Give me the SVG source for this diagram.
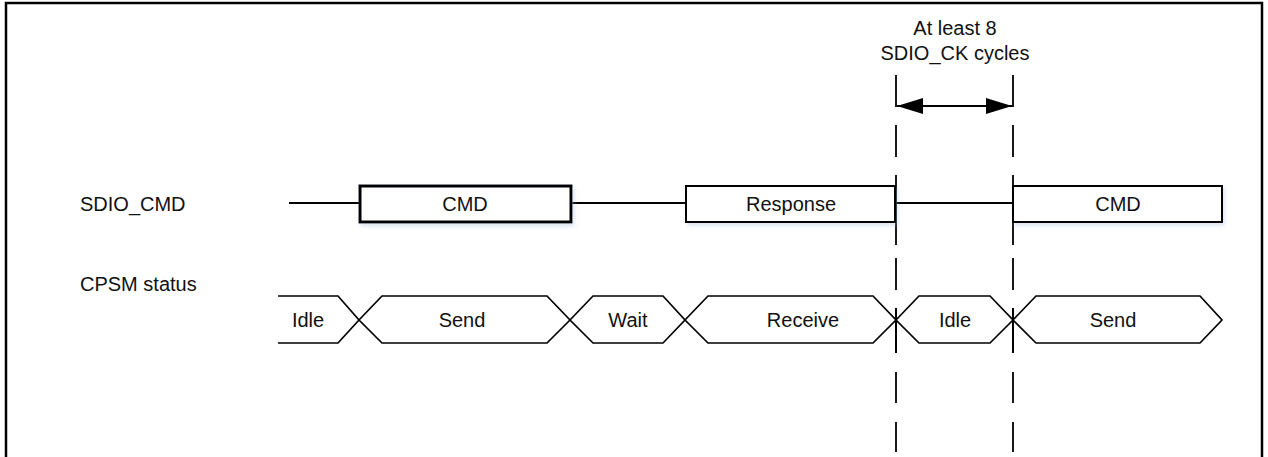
<svg xmlns="http://www.w3.org/2000/svg" width="1268" height="457" viewBox="0 0 1268 457">
  <defs>
    <filter id="sh" x="-5%" y="-20%" width="110%" height="160%">
      <feDropShadow dx="2" dy="3" stdDeviation="2" flood-color="#9fb6dc" flood-opacity="0.35"/>
    </filter>
    <marker id="ah" viewBox="0 0 26 16" refX="26" refY="8" markerWidth="26" markerHeight="16" markerUnits="userSpaceOnUse" orient="auto-start-reverse">
      <path d="M0,0 L26,8 L0,16 Z" fill="#000"/>
    </marker>
  </defs>
  <style>
    text { font-family: "Liberation Sans", Arial, sans-serif; font-size: 20px; fill: #111; }
    .c { text-anchor: middle; }
    .box { fill: #fff; stroke: #000; stroke-width: 2; filter: url(#sh); }
    .bold { stroke-width: 3; }
    .wire { fill: none; stroke: #000; stroke-width: 2; }
    .st { fill: #fff; stroke: #000; stroke-width: 1.7; stroke-linejoin: miter; }
    .guide { fill: none; stroke: #000; stroke-width: 1.8; }
  </style>
  <rect width="1268" height="457" fill="#fff"/>
  <!-- frame -->
  <path d="M6,457 L6,3 L1262,3 L1262,457" fill="none" stroke="#000" stroke-width="2.5"/>

  <!-- signal labels -->
  <g id="lbl-sdio-cmd"><text x="80" y="211">SDIO_CMD</text></g>
  <g id="lbl-cpsm"><text x="80" y="291">CPSM status</text></g>
  <g id="lbl-cycles">
    <text class="c" x="955" y="35">At least 8</text>
    <text class="c" x="955" y="60">SDIO_CK cycles</text>
  </g>

  <!-- SDIO_CMD row -->
  <g id="connectors">
    <path class="wire" d="M289,203 H360 M571,203 H686 M895,203 H1013"/>
    <path class="guide" d="M896,75 V107 M896,125 V157 M896,175 V245 M896,258 V290 M896,308 V353 M896,372 V403 M896,422 V452"/>
    <path class="guide" d="M1013,75 V107 M1013,125 V157 M1013,175 V245 M1013,258 V290 M1013,308 V353 M1013,372 V403 M1013,422 V452"/>
    <line x1="897" y1="106" x2="1012" y2="106" stroke="#000" stroke-width="2" marker-start="url(#ah)" marker-end="url(#ah)"/>
  </g>

  <g id="cmd1"><rect class="box bold" x="360" y="186" width="211" height="36"/><text class="c" x="465" y="211">CMD</text></g>
  <g id="response"><rect class="box" x="686" y="186" width="209" height="36"/><text class="c" x="791" y="211">Response</text></g>
  <g id="cmd2"><rect class="box" x="1013" y="186" width="209" height="36"/><text class="c" x="1118" y="211">CMD</text></g>

  <!-- CPSM status row -->
  <g id="st-idle1">
    <path class="st" d="M278,296 H338 L359,320 L338,343 H278" fill="none" style="fill:none"/>
    <text class="c" x="308" y="327">Idle</text>
  </g>
  <g id="st-send1">
    <path class="st" d="M359,320 L382,296 H547 L570,320 L547,343 H382 Z"/>
    <text class="c" x="462" y="327">Send</text>
  </g>
  <g id="st-wait">
    <path class="st" d="M570,320 L593,296 H663 L685,320 L663,343 H593 Z"/>
    <text class="c" x="628" y="327">Wait</text>
  </g>
  <g id="st-receive">
    <path class="st" d="M685,320 L708,296 H873 L896,320 L873,343 H708 Z"/>
    <text class="c" x="803" y="327">Receive</text>
  </g>
  <g id="st-idle2">
    <path class="st" d="M896,320 L919,296 H990 L1013,320 L990,343 H919 Z"/>
    <text class="c" x="955" y="327">Idle</text>
  </g>
  <g id="st-send2">
    <path class="st" d="M1013,320 L1036,296 H1200 L1222,320 L1200,343 H1036 Z"/>
    <text class="c" x="1113" y="327">Send</text>
  </g>
  <!-- redraw guides over states -->
  <g id="guides-over">
    <path class="guide" d="M896,308 V353 M1013,308 V353"/>
  </g>
</svg>
